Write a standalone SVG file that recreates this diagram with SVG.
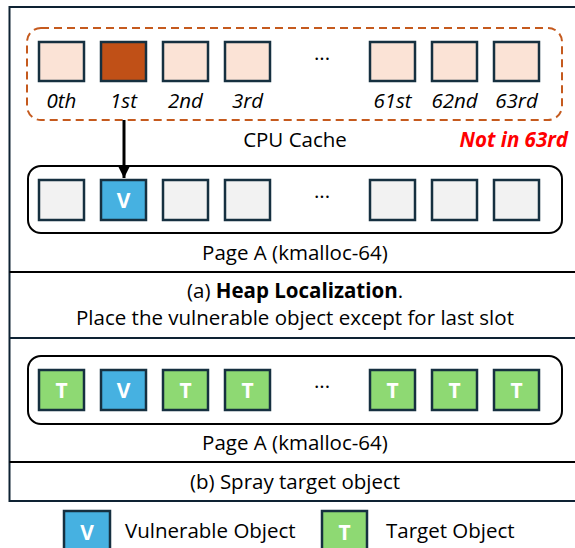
<svg xmlns="http://www.w3.org/2000/svg" width="575" height="548" viewBox="0 0 575 548">
<style>
text{font-family:"Open Sans",Lato,"Liberation Sans",sans-serif;fill:#000}
.t{font-size:20.5px;text-anchor:middle}
.lbl{font-size:20.5px;font-style:italic;text-anchor:middle}
.sq{stroke:#163040;stroke-width:2.5}
.c{fill:#fbe3d6}
.g{fill:#f2f2f2}
.v{fill:#46b1e1}
.tg{fill:#8ed973}
.in{fill:#fff;font-weight:bold;font-size:21px;text-anchor:middle}
.frame{fill:none;stroke:#0e2233;stroke-width:2}
.page{fill:none;stroke:#000;stroke-width:2}
</style>
<defs>
<marker id="ah" viewBox="0 0 10 10" refX="10" refY="5" markerWidth="4" markerHeight="4" orient="auto" markerUnits="strokeWidth"><path d="M0,0L10,5L0,10z" fill="#000"/></marker>
</defs>
<g id="frame">
<rect x="9.5" y="7" width="580" height="494" class="frame"/>
<line x1="9.5" y1="272" x2="580" y2="272" stroke="#000" stroke-width="2"/>
<line x1="9.5" y1="338" x2="580" y2="338" stroke="#0e2233" stroke-width="2"/>
<line x1="9.5" y1="462" x2="580" y2="462" stroke="#000" stroke-width="2"/>
</g>
<g id="cpu-cache">
<rect x="27" y="28" width="535" height="92" rx="14" fill="none" stroke="#c55a1e" stroke-width="2" stroke-dasharray="8,5"/>
<rect class="sq c" x="39" y="42" width="45" height="39"/>
<rect class="sq" fill="#c05017" x="101" y="42" width="45" height="39"/>
<rect class="sq c" x="163" y="42" width="45" height="39"/>
<rect class="sq c" x="225" y="42" width="45" height="39"/>
<text class="t" x="322" y="60">...</text>
<rect class="sq c" x="370" y="42" width="45" height="39"/>
<rect class="sq c" x="432" y="42" width="45" height="39"/>
<rect class="sq c" x="494" y="42" width="45" height="39"/>
<text class="lbl" x="61.5" y="108">0th</text>
<text class="lbl" x="123.5" y="108">1st</text>
<text class="lbl" x="185.5" y="108">2nd</text>
<text class="lbl" x="247.5" y="108">3rd</text>
<text class="lbl" x="392.5" y="108">61st</text>
<text class="lbl" x="454.5" y="108">62nd</text>
<text class="lbl" x="516.5" y="108">63rd</text>
<text class="t" x="295" y="147">CPU Cache</text>
<text x="568" y="147" style="font-size:20.5px;font-weight:bold;font-style:italic;text-anchor:end;fill:#ff0000">Not in 63rd</text>
</g>
<g id="connectors">
<line x1="124" y1="120" x2="124" y2="178" stroke="#000" stroke-width="3" marker-end="url(#ah)"/>
</g>
<g id="page-a1">
<rect class="page" x="28" y="166" width="534" height="67" rx="13"/>
<rect class="sq g" x="39" y="180" width="45" height="40"/>
<rect class="sq v" x="101" y="180" width="45" height="40"/>
<text class="in" x="123.5" y="208">V</text>
<rect class="sq g" x="163" y="180" width="45" height="40"/>
<rect class="sq g" x="225" y="180" width="45" height="40"/>
<text class="t" x="322" y="198">...</text>
<rect class="sq g" x="370" y="180" width="45" height="40"/>
<rect class="sq g" x="432" y="180" width="45" height="40"/>
<rect class="sq g" x="494" y="180" width="45" height="40"/>
<text class="t" x="295" y="260">Page A (kmalloc-64)</text>
</g>
<g id="caption-a">
<text class="t" x="295" y="298">(a) <tspan font-weight="bold">Heap Localization</tspan>.</text>
<text class="t" x="295" y="325">Place the vulnerable object except for last slot</text>
</g>
<g id="page-a2">
<rect class="page" x="28" y="356" width="534" height="68" rx="13"/>
<rect class="sq tg" x="39" y="370" width="45" height="40"/>
<text class="in" x="61.5" y="398">T</text>
<rect class="sq v" x="101" y="370" width="45" height="40"/>
<text class="in" x="123.5" y="398">V</text>
<rect class="sq tg" x="163" y="370" width="45" height="40"/>
<text class="in" x="185.5" y="398">T</text>
<rect class="sq tg" x="225" y="370" width="45" height="40"/>
<text class="in" x="247.5" y="398">T</text>
<text class="t" x="322" y="388">...</text>
<rect class="sq tg" x="370" y="370" width="45" height="40"/>
<text class="in" x="392.5" y="398">T</text>
<rect class="sq tg" x="432" y="370" width="45" height="40"/>
<text class="in" x="454.5" y="398">T</text>
<rect class="sq tg" x="494" y="370" width="45" height="40"/>
<text class="in" x="516.5" y="398">T</text>
<text class="t" x="295" y="450">Page A (kmalloc-64)</text>
</g>
<g id="caption-b">
<text class="t" x="295" y="489">(b) Spray target object</text>
</g>
<g id="legend">
<rect class="sq v" x="64" y="511" width="46" height="42"/>
<text class="in" x="87" y="540">V</text>
<text x="125" y="538" style="font-size:20.5px">Vulnerable Object</text>
<rect class="sq tg" x="322" y="511" width="45" height="42"/>
<text class="in" x="344.5" y="540">T</text>
<text x="386" y="538" style="font-size:20.5px">Target Object</text>
</g>
</svg>
